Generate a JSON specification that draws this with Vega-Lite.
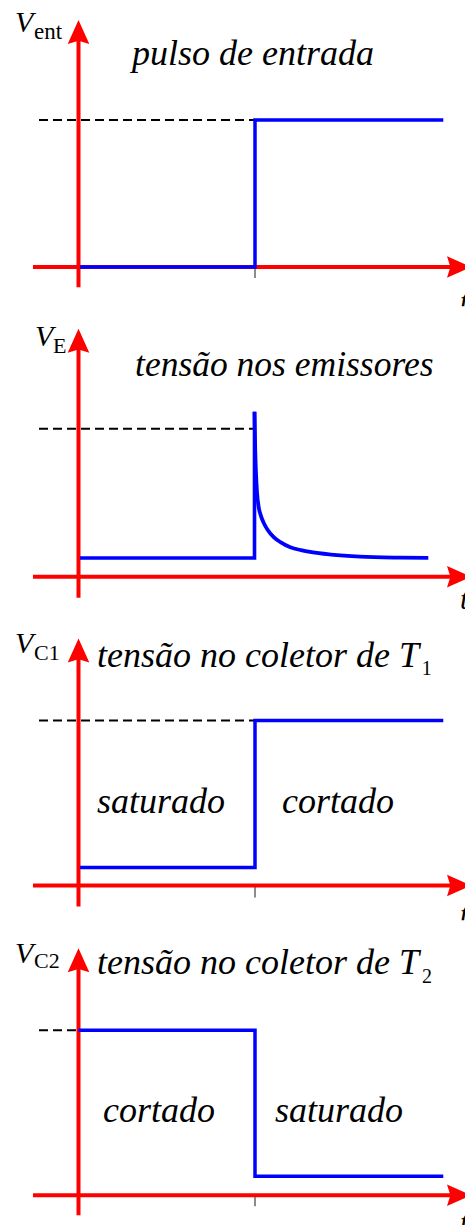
{
  "$schema": "https://vega.github.io/schema/vega-lite/v6.json",
  "background": "#ffffff",
  "padding": 0,
  "spacing": 0,
  "bounds": "flush",
  "resolve": {"scale": {"x": "independent", "y": "independent"}},
  "config": {
    "view": {"stroke": null},
    "axis": {"disable": true},
    "legend": {"disable": true},
    "text": {"font": "Liberation Serif"}
  },
  "vconcat": [
    {
      "width": 465,
      "height": 306.25,
      "encoding": {
        "x": {"field": "t", "type": "quantitative", "scale": {"domain": [-2.224, 10.949], "nice": false, "zero": false}},
        "y": {"field": "v", "type": "quantitative", "scale": {"domain": [-1.335, 9.082], "nice": false, "zero": false}}
      },
      "layer": [
        {
          "data": {"values": [{"t": -1.119, "t2": 5, "v": 5, "v2": 5}]},
          "mark": {"type": "rule", "color": "#000000", "strokeWidth": 2, "strokeDash": [9, 5]},
          "encoding": {"x2": {"field": "t2"}, "y2": {"field": "v2"}}
        },
        {
          "data": {"values": [{"t": 5, "t2": 5, "v": 0, "v2": -0.374}]},
          "mark": {"type": "rule", "color": "#666666", "strokeWidth": 1.5},
          "encoding": {"x2": {"field": "t2"}, "y2": {"field": "v2"}}
        },
        {
          "data": {"values": [
            {"t": -1.289, "t2": 10.779, "v": 0, "v2": 0},
            {"t": 0, "t2": 0, "v": -0.69, "v2": 7.993}
          ]},
          "mark": {"type": "rule", "color": "#ff0000", "strokeWidth": 4},
          "encoding": {"x2": {"field": "t2"}, "y2": {"field": "v2"}}
        },
        {
          "data": {"values": [
            {"t": 0.042, "v": 0},
            {"t": 5, "v": 0},
            {"t": 5, "v": 5},
            {"t": 10.334, "v": 5}
          ]},
          "mark": {"type": "line", "color": "#0000ff", "strokeWidth": 3.5, "strokeJoin": "miter"},
          "encoding": {"order": {"value": null}}
        },
        {
          "data": {"values": [{"t": 0, "v": 7.993}]},
          "mark": {"type": "point", "shape": "M0,-1L0.9,1L0,0.72L-0.9,1Z", "size": 576, "filled": true, "color": "#ff0000", "opacity": 1, "strokeWidth": 0, "clip": true},
          "encoding": {}
        },
        {
          "data": {"values": [{"t": 10.779, "v": 0}]},
          "mark": {"type": "point", "shape": "M0,-1L0.9,1L0,0.72L-0.9,1Z", "size": 576, "angle": 90, "filled": true, "color": "#ff0000", "opacity": 1, "strokeWidth": 0, "clip": true},
          "encoding": {}
        },
        {
          "data": {"values": [{"t": 1.516, "v": 6.871, "label": "pulso de entrada"}]},
          "mark": {"type": "text", "fontStyle": "italic", "fontSize": 36, "align": "left", "baseline": "alphabetic", "color": "#000000", "clip": true},
          "encoding": {"text": {"field": "label"}}
        },
        {
          "data": {"values": [
            {"t": -1.799, "v": 8.003, "label": "V"},
            {"t": 10.807, "v": -1.497, "label": "t"}
          ]},
          "mark": {"type": "text", "fontStyle": "italic", "fontSize": 30, "align": "left", "baseline": "alphabetic", "color": "#000000", "clip": true},
          "encoding": {"text": {"field": "label"}}
        },
        {
          "data": {"values": [{"t": -1.261, "v": 7.745, "label": "ent"}]},
          "mark": {"type": "text", "fontSize": 23, "align": "left", "baseline": "alphabetic", "color": "#000000", "clip": true},
          "encoding": {"text": {"field": "label"}}
        }
      ]
    },
    {
      "width": 465,
      "height": 306.25,
      "encoding": {
        "x": {"field": "t", "type": "quantitative", "scale": {"domain": [-2.224, 10.949], "nice": false, "zero": false}},
        "y": {"field": "v", "type": "quantitative", "scale": {"domain": [-1.233, 9.113], "nice": false, "zero": false}}
      },
      "layer": [
        {
          "data": {"values": [{"t": -1.119, "t2": 5, "v": 5, "v2": 5}]},
          "mark": {"type": "rule", "color": "#000000", "strokeWidth": 2, "strokeDash": [9, 5]},
          "encoding": {"x2": {"field": "t2"}, "y2": {"field": "v2"}}
        },
        {
          "data": {"values": [
            {"t": -1.289, "t2": 10.779, "v": 0, "v2": 0},
            {"t": 0, "t2": 0, "v": -0.709, "v2": 7.973}
          ]},
          "mark": {"type": "rule", "color": "#ff0000", "strokeWidth": 4},
          "encoding": {"x2": {"field": "t2"}, "y2": {"field": "v2"}}
        },
        {
          "data": {"values": [
            {"t": 0.042, "v": 0.635},
            {"t": 4.986, "v": 0.635},
            {"t": 4.986, "v": 5.574}
          ]},
          "mark": {"type": "line", "color": "#0000ff", "strokeWidth": 3.6, "strokeJoin": "miter"},
          "encoding": {"order": {"value": null}}
        },
        {
          "data": {"values": [
            {"t": 4.986, "v": 5.574},
            {"t": 5.006, "v": 4.3},
            {"t": 5.028, "v": 3.5},
            {"t": 5.057, "v": 2.85},
            {"t": 5.105, "v": 2.35},
            {"t": 5.17, "v": 2.05},
            {"t": 5.255, "v": 1.8},
            {"t": 5.36, "v": 1.58},
            {"t": 5.53, "v": 1.34},
            {"t": 5.72, "v": 1.17},
            {"t": 6.0, "v": 1.0},
            {"t": 6.3, "v": 0.9},
            {"t": 6.6, "v": 0.83},
            {"t": 7.15, "v": 0.75},
            {"t": 7.975, "v": 0.68},
            {"t": 9.108, "v": 0.645},
            {"t": 9.909, "v": 0.635}
          ]},
          "mark": {"type": "line", "color": "#0000ff", "strokeWidth": 3.8, "interpolate": "monotone"},
          "encoding": {"order": {"value": null}}
        },
        {
          "data": {"values": [{"t": 0, "v": 7.973}]},
          "mark": {"type": "point", "shape": "M0,-1L0.9,1L0,0.72L-0.9,1Z", "size": 576, "filled": true, "color": "#ff0000", "opacity": 1, "strokeWidth": 0, "clip": true},
          "encoding": {}
        },
        {
          "data": {"values": [{"t": 10.779, "v": 0}]},
          "mark": {"type": "point", "shape": "M0,-1L0.9,1L0,0.72L-0.9,1Z", "size": 576, "angle": 90, "filled": true, "color": "#ff0000", "opacity": 1, "strokeWidth": 0, "clip": true},
          "encoding": {}
        },
        {
          "data": {"values": [{"t": 1.601, "v": 6.791, "label": "tensão nos emissores"}]},
          "mark": {"type": "text", "fontStyle": "italic", "fontSize": 35.5, "align": "left", "baseline": "alphabetic", "color": "#000000", "clip": true},
          "encoding": {"text": {"field": "label"}}
        },
        {
          "data": {"values": [
            {"t": -1.232, "v": 7.804, "label": "V"},
            {"t": 10.807, "v": -1.081, "label": "t"}
          ]},
          "mark": {"type": "text", "fontStyle": "italic", "fontSize": 30, "align": "left", "baseline": "alphabetic", "color": "#000000", "clip": true},
          "encoding": {"text": {"field": "label"}}
        },
        {
          "data": {"values": [{"t": -0.722, "v": 7.557, "label": "E"}]},
          "mark": {"type": "text", "fontSize": 22, "align": "left", "baseline": "alphabetic", "color": "#000000", "clip": true},
          "encoding": {"text": {"field": "label"}}
        }
      ]
    },
    {
      "width": 465,
      "height": 306.25,
      "encoding": {
        "x": {"field": "t", "type": "quantitative", "scale": {"domain": [-2.224, 10.949], "nice": false, "zero": false}},
        "y": {"field": "v", "type": "quantitative", "scale": {"domain": [-1.053, 8.227], "nice": false, "zero": false}}
      },
      "layer": [
        {
          "data": {"values": [{"t": -1.119, "t2": 5, "v": 5, "v2": 5}]},
          "mark": {"type": "rule", "color": "#000000", "strokeWidth": 2, "strokeDash": [9, 5]},
          "encoding": {"x2": {"field": "t2"}, "y2": {"field": "v2"}}
        },
        {
          "data": {"values": [{"t": 5, "t2": 5, "v": 0, "v2": -0.364}]},
          "mark": {"type": "rule", "color": "#666666", "strokeWidth": 1.5},
          "encoding": {"x2": {"field": "t2"}, "y2": {"field": "v2"}}
        },
        {
          "data": {"values": [
            {"t": -1.289, "t2": 10.779, "v": 0, "v2": 0},
            {"t": 0, "t2": 0, "v": -0.636, "v2": 7.121}
          ]},
          "mark": {"type": "rule", "color": "#ff0000", "strokeWidth": 4},
          "encoding": {"x2": {"field": "t2"}, "y2": {"field": "v2"}}
        },
        {
          "data": {"values": [
            {"t": 0.042, "v": 0.545},
            {"t": 5, "v": 0.545},
            {"t": 5, "v": 5},
            {"t": 10.334, "v": 5}
          ]},
          "mark": {"type": "line", "color": "#0000ff", "strokeWidth": 3.5, "strokeJoin": "miter"},
          "encoding": {"order": {"value": null}}
        },
        {
          "data": {"values": [{"t": 0, "v": 7.121}]},
          "mark": {"type": "point", "shape": "M0,-1L0.9,1L0,0.72L-0.9,1Z", "size": 576, "filled": true, "color": "#ff0000", "opacity": 1, "strokeWidth": 0, "clip": true},
          "encoding": {}
        },
        {
          "data": {"values": [{"t": 10.779, "v": 0}]},
          "mark": {"type": "point", "shape": "M0,-1L0.9,1L0,0.72L-0.9,1Z", "size": 576, "angle": 90, "filled": true, "color": "#ff0000", "opacity": 1, "strokeWidth": 0, "clip": true},
          "encoding": {}
        },
        {
          "data": {"values": [
            {"t": 0.524, "v": 6.636, "label": "tensão no coletor de T"},
            {"t": 0.524, "v": 2.188, "label": "saturado"},
            {"t": 5.765, "v": 2.188, "label": "cortado"}
          ]},
          "mark": {"type": "text", "fontStyle": "italic", "fontSize": 36, "align": "left", "baseline": "alphabetic", "color": "#000000", "clip": true},
          "encoding": {"text": {"field": "label"}}
        },
        {
          "data": {"values": [
            {"t": -1.799, "v": 7.039, "label": "V"},
            {"t": 10.807, "v": -1.152, "label": "t"}
          ]},
          "mark": {"type": "text", "fontStyle": "italic", "fontSize": 30, "align": "left", "baseline": "alphabetic", "color": "#000000", "clip": true},
          "encoding": {"text": {"field": "label"}}
        },
        {
          "data": {"values": [{"t": -1.261, "v": 6.839, "label": "C1"}]},
          "mark": {"type": "text", "fontSize": 22, "align": "left", "baseline": "alphabetic", "color": "#000000", "clip": true},
          "encoding": {"text": {"field": "label"}}
        },
        {
          "data": {"values": [{"t": 9.722, "v": 6.385, "label": "1"}]},
          "mark": {"type": "text", "fontSize": 20, "align": "left", "baseline": "alphabetic", "color": "#000000", "clip": true},
          "encoding": {"text": {"field": "label"}}
        }
      ]
    },
    {
      "width": 465,
      "height": 306.25,
      "encoding": {
        "x": {"field": "t", "type": "quantitative", "scale": {"domain": [-2.224, 10.949], "nice": false, "zero": false}},
        "y": {"field": "v", "type": "quantitative", "scale": {"domain": [-0.97, 8.311], "nice": false, "zero": false}}
      },
      "layer": [
        {
          "data": {"values": [{"t": -1.119, "t2": 5, "v": 5, "v2": 5}]},
          "mark": {"type": "rule", "color": "#000000", "strokeWidth": 2, "strokeDash": [9, 5]},
          "encoding": {"x2": {"field": "t2"}, "y2": {"field": "v2"}}
        },
        {
          "data": {"values": [{"t": 5, "t2": 5, "v": 0, "v2": -0.333}]},
          "mark": {"type": "rule", "color": "#666666", "strokeWidth": 1.5},
          "encoding": {"x2": {"field": "t2"}, "y2": {"field": "v2"}}
        },
        {
          "data": {"values": [
            {"t": -1.289, "t2": 10.779, "v": 0, "v2": 0},
            {"t": 0, "t2": 0, "v": -0.606, "v2": 7.121}
          ]},
          "mark": {"type": "rule", "color": "#ff0000", "strokeWidth": 4},
          "encoding": {"x2": {"field": "t2"}, "y2": {"field": "v2"}}
        },
        {
          "data": {"values": [
            {"t": 0, "v": 5},
            {"t": 5, "v": 5},
            {"t": 5, "v": 0.576},
            {"t": 10.334, "v": 0.576}
          ]},
          "mark": {"type": "line", "color": "#0000ff", "strokeWidth": 3.5, "strokeJoin": "miter"},
          "encoding": {"order": {"value": null}}
        },
        {
          "data": {"values": [{"t": 0, "v": 7.121}]},
          "mark": {"type": "point", "shape": "M0,-1L0.9,1L0,0.72L-0.9,1Z", "size": 576, "filled": true, "color": "#ff0000", "opacity": 1, "strokeWidth": 0, "clip": true},
          "encoding": {}
        },
        {
          "data": {"values": [{"t": 10.779, "v": 0}]},
          "mark": {"type": "point", "shape": "M0,-1L0.9,1L0,0.72L-0.9,1Z", "size": 576, "angle": 90, "filled": true, "color": "#ff0000", "opacity": 1, "strokeWidth": 0, "clip": true},
          "encoding": {}
        },
        {
          "data": {"values": [
            {"t": 0.524, "v": 6.706, "label": "tensão no coletor de T"},
            {"t": 0.694, "v": 2.233, "label": "cortado"},
            {"t": 5.567, "v": 2.233, "label": "saturado"}
          ]},
          "mark": {"type": "text", "fontStyle": "italic", "fontSize": 36, "align": "left", "baseline": "alphabetic", "color": "#000000", "clip": true},
          "encoding": {"text": {"field": "label"}}
        },
        {
          "data": {"values": [
            {"t": -1.799, "v": 7.039, "label": "V"},
            {"t": 10.807, "v": -1.121, "label": "t"}
          ]},
          "mark": {"type": "text", "fontStyle": "italic", "fontSize": 30, "align": "left", "baseline": "alphabetic", "color": "#000000", "clip": true},
          "encoding": {"text": {"field": "label"}}
        },
        {
          "data": {"values": [{"t": -1.261, "v": 6.879, "label": "C2"}]},
          "mark": {"type": "text", "fontSize": 22, "align": "left", "baseline": "alphabetic", "color": "#000000", "clip": true},
          "encoding": {"text": {"field": "label"}}
        },
        {
          "data": {"values": [{"t": 9.731, "v": 6.424, "label": "2"}]},
          "mark": {"type": "text", "fontSize": 20, "align": "left", "baseline": "alphabetic", "color": "#000000", "clip": true},
          "encoding": {"text": {"field": "label"}}
        }
      ]
    }
  ]
}
